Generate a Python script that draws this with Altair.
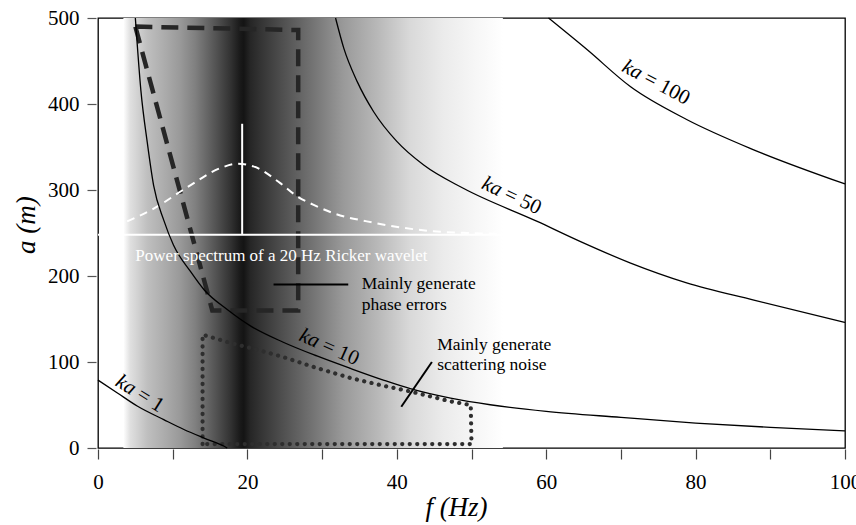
import altair as alt
import pandas as pd

SERIF = "Liberation Serif"

# ---------------- data ----------------
# ka iso-curves (f in Hz, a in m)
ka1_f = [0, 2.6, 5.3, 8.8, 11.5, 14.2, 16.9, 17.3]
ka1_a = [79, 64, 48.5, 33, 21.5, 11.5, 2, 0]

ka10_f = [5.0, 5.75, 6.6, 7.45, 8.8, 10.1, 12.4, 14.2, 17.3, 20.4, 24.8, 29.3,
          33.8, 38.2, 41.8, 47.2, 52.5, 60, 70, 80, 90, 100]
ka10_a = [500, 415, 355, 305, 265, 236, 205, 184, 161, 142, 123, 107,
          92.5, 79, 69, 58, 50.3, 42.6, 35.6, 29, 24, 20]

ka50_f = [31.8, 32.9, 34.7, 36.9, 40.0, 43.6, 48.9, 58.8, 64.6, 71.3, 78.8, 87.8, 100]
ka50_a = [500, 465, 426, 391, 356.5, 329, 302, 263.5, 240, 215, 192, 172, 146]

ka100_f = [60.3, 65.5, 71.3, 78.8, 87.7, 100]
ka100_a = [500, 463, 420, 382, 347, 307]

# Ricker power spectrum (white dashed), its baseline and peak marker
ricker_f = [3.9, 7.4, 11.9, 16.4, 18.6, 20.8, 24.4, 26.6, 29.3, 31.5, 36.0, 40.5, 44.9, 49.4, 53.9]
ricker_a = [263.5, 278, 303, 325.5, 330.5, 327.5, 308, 293, 281, 273, 263.5, 256.5, 252, 250, 249]
ricker_base_a = 248
ricker_base_f = [0, 54.2]
ricker_peak_f = 19.3
ricker_peak_top = 377

# Shading band (grey level, 0 = black, 1 = white) vs frequency
band_f = [3.4, 4.3, 6.6, 9, 11, 13, 14.6, 16.2, 17.7, 19.0, 19.5, 20.4, 22, 23.6,
          26.7, 28.7, 32.8, 37.4, 41.8, 46.2, 50.8, 54.2]
band_gray = [1.0, 0.88, 0.75, 0.67, 0.6, 0.5, 0.4, 0.3, 0.2, 0.1, 0.08, 0.15, 0.21, 0.27,
             0.38, 0.45, 0.6, 0.72, 0.85, 0.92, 0.97, 1.0]

# Region outlines
phase_f = [5.0, 26.8, 26.8, 15.3, 5.0]
phase_a = [490, 486, 160, 160, 490]

scatter_f = [14, 14, 15.5, 18.2, 20.8, 24.8, 29.3, 33.8, 38.2, 41.8, 47.2, 49.9, 50, 14]
scatter_a = [4.6, 131.7, 128, 121, 115.5, 105.8, 93, 81.4, 72.4, 65.8, 54.2, 50, 4.6, 4.6]

# Leader lines
phase_lead = {"f": [23.5], "f2": [33.5], "a": [190], "a2": [190]}
scatter_lead = {"f": [40.6], "f2": [44.7], "a": [48], "a2": [100]}

# Text annotations
ka_labels = [  # (rest of label, f, a, angle, offset of "ka" end)
    ("= 100", 74.7, 424.8, 28, -17),
    ("= 50", 55.4, 293, 25, -12),
    ("= 10", 31.0, 117, 24, -12),
    ("= 1", 5.6, 63, 32, -6.5),
]
note_text = ["Mainly generate", "phase errors", "Mainly generate", "scattering noise"]
note_f = [35.3, 35.3, 45.4, 45.4]
note_a = [191, 166.6, 120.1, 97]
ricker_text = "Power spectrum of a 20 Hz Ricker wavelet"
ricker_text_pos = (5.0, 222.8)

x_ticks = list(range(0, 101, 10))
y_ticks = list(range(0, 501, 100))

# ---------------- chart ----------------
xs = alt.Scale(domain=[0, 100], nice=False, zero=False)
ys = alt.Scale(domain=[0, 500], nice=False, zero=False)

xaxis = alt.Axis(values=x_ticks, labelExpr="datum.value % 20 === 0 ? datum.label : ''",
                 tickSize=10, tickColor="#444", offset=1, labelPadding=12,
                 titleX=358, titleY=66.7, titleAlign="center", titleBaseline="alphabetic")
yaxis = alt.Axis(values=y_ticks, tickSize=9, tickColor="#555", offset=2, labelPadding=8,
                 titleAngle=270, titleX=-62, titleY=206.7, titleAlign="center",
                 titleBaseline="alphabetic")


def X(field="f"):
    return alt.X(f"{field}:Q", scale=xs, axis=xaxis, title="f (Hz)")


def Y(field="a"):
    return alt.Y(f"{field}:Q", scale=ys, axis=yaxis, title="a (m)")


def gray_hex(g):
    v = int(round(g * 255))
    return "#{0:02x}{0:02x}{0:02x}".format(v)


layers = []

# shading band
f0, f1 = band_f[0], band_f[-1]
stops = [{"offset": (f - f0) / (f1 - f0), "color": gray_hex(g)} for f, g in zip(band_f, band_gray)]
band_df = pd.DataFrame({"f": [f0], "f2": [f1], "a": [0], "a2": [500]})
layers.append(alt.Chart(band_df).mark_rect(
    fill={"gradient": "linear", "x1": 0, "x2": 1, "y1": 0, "y2": 0, "stops": stops},
    strokeWidth=0).encode(x=X(), x2="f2:Q", y=Y(), y2="a2:Q"))

# phase-error region (thick dashed)
ph_df = pd.DataFrame({"f": phase_f, "a": phase_a, "i": range(len(phase_f))})
layers.append(alt.Chart(ph_df).mark_line(color="#262626", strokeWidth=4.5, strokeDash=[17, 9],
                                         strokeCap="butt").encode(x=X(), y=Y(), order="i:Q"))

# scattering-noise region (dotted)
sc_df = pd.DataFrame({"f": scatter_f, "a": scatter_a, "i": range(len(scatter_f))})
layers.append(alt.Chart(sc_df).mark_line(color="#2e2e2e", strokeWidth=4.2, strokeDash=[0.1, 7.4],
                                         strokeCap="round").encode(x=X(), y=Y(), order="i:Q"))

# Ricker baseline and peak line
base_df = pd.DataFrame({"f": [ricker_base_f[0]], "f2": [ricker_base_f[1]],
                        "a": [ricker_base_a], "a2": [ricker_base_a]})
layers.append(alt.Chart(base_df).mark_rule(color="white", strokeWidth=2).encode(
    x=X(), x2="f2:Q", y=Y(), y2="a2:Q"))
peak_df = pd.DataFrame({"f": [ricker_peak_f], "f2": [ricker_peak_f],
                        "a": [ricker_base_a], "a2": [ricker_peak_top]})
layers.append(alt.Chart(peak_df).mark_rule(color="white", strokeWidth=2).encode(
    x=X(), x2="f2:Q", y=Y(), y2="a2:Q"))

# Ricker spectrum curve
rk_df = pd.DataFrame({"f": ricker_f, "a": ricker_a})
layers.append(alt.Chart(rk_df).mark_line(color="white", strokeWidth=2, strokeDash=[8, 6],
                                         interpolate="monotone").encode(x=X(), y=Y()))

# ka curves
for fs, as_ in [(ka1_f, ka1_a), (ka10_f, ka10_a), (ka50_f, ka50_a), (ka100_f, ka100_a)]:
    d = pd.DataFrame({"f": fs, "a": as_})
    layers.append(alt.Chart(d).mark_line(color="black", strokeWidth=1.3,
                                         interpolate="monotone").encode(x=X(), y=Y()))

# leader lines
for lead in (phase_lead, scatter_lead):
    d = pd.DataFrame(lead)
    layers.append(alt.Chart(d).mark_rule(color="black", strokeWidth=2).encode(
        x=X(), x2="f2:Q", y=Y(), y2="a2:Q"))

# ka labels
for rest, f, a, ang, dk in ka_labels:
    d = pd.DataFrame({"f": [f], "a": [a]})
    base = alt.Chart(d)
    layers.append(base.mark_text(text="ka", angle=ang, align="right", baseline="middle", dx=dk,
                                 font=SERIF, fontSize=21, fontStyle="italic", color="black")
                  .encode(x=X(), y=Y()))
    layers.append(base.mark_text(text=rest, angle=ang, align="left", baseline="middle", dx=dk + 5,
                                 font=SERIF, fontSize=21, color="black")
                  .encode(x=X(), y=Y()))

# notes
notes_df = pd.DataFrame({"f": note_f, "a": note_a, "t": note_text})
layers.append(alt.Chart(notes_df).mark_text(align="left", baseline="middle", font=SERIF,
                                            fontSize=17.5, color="black")
              .encode(x=X(), y=Y(), text="t:N"))

rt_df = pd.DataFrame({"f": [ricker_text_pos[0]], "a": [ricker_text_pos[1]], "t": [ricker_text]})
layers.append(alt.Chart(rt_df).mark_text(align="left", baseline="middle", font=SERIF,
                                         fontSize=17, color="white")
              .encode(x=X(), y=Y(), text="t:N"))

chart = alt.layer(*layers).properties(
    width=747, height=430,
    padding={"left": 98, "top": 18, "right": 11, "bottom": 77},
    autosize=alt.AutoSizeParams(type="none"),
    background="white",
).configure(font=SERIF).configure_view(
    stroke="black", strokeWidth=1.3
).configure_axis(
    domain=False, grid=False, tickWidth=1.2,
    labelFont=SERIF, labelFontSize=21, labelColor="black", labelFlush=False,
    labelOverlap=False,
    titleFont=SERIF, titleFontSize=27, titleFontStyle="italic", titleFontWeight="normal",
    titleColor="black",
).configure_text(font=SERIF)

chart.save("out.html", embed_options={"renderer": "svg", "actions": False})
